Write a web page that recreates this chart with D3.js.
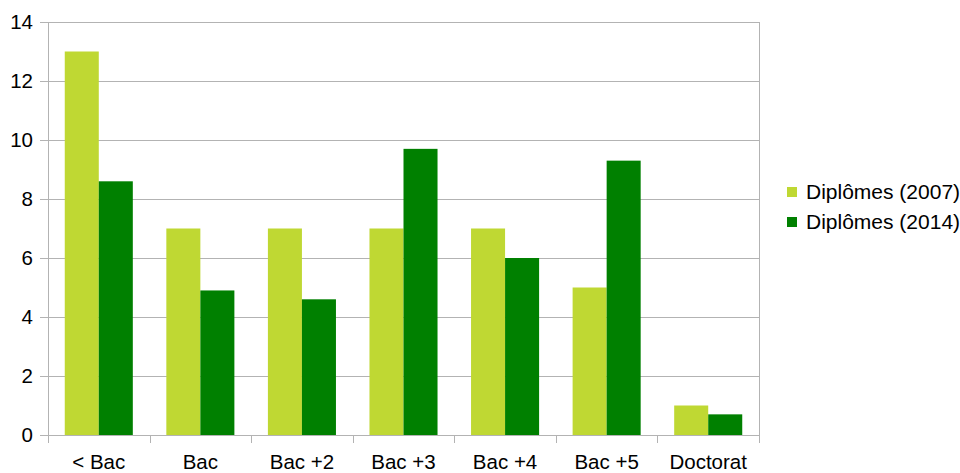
<!DOCTYPE html>
<html>
<head>
<meta charset="utf-8">
<script src="https://cdn.jsdelivr.net/npm/d3@7/dist/d3.min.js"></script>
<style>
  body { margin: 0; background: #fff; }
  text { font-family: "Liberation Sans", Arial, sans-serif; fill: #000; }
</style>
</head>
<body>
<svg id="chart" width="960" height="473"></svg>
<script>
// chart data
var categories = ["< Bac", "Bac", "Bac +2", "Bac +3", "Bac +4", "Bac +5", "Doctorat"];
var seriesNames = ["Diplômes (2007)", "Diplômes (2014)"];
var values2007 = [13, 7, 7, 7, 7, 5, 1];
var values2014 = [8.6, 4.9, 4.6, 9.7, 6, 9.3, 0.7];
var yTicks = [0, 2, 4, 6, 8, 10, 12, 14];
var colors = ["#bfd833", "#008000"];

var svg = d3.select("#chart");
var m = { left: 48, right: 759, top: 22, bottom: 435 };

var x = d3.scaleBand()
  .domain(categories)
  .range([m.left, m.right])
  .paddingInner(0.33)
  .paddingOuter(0.165);

var xs = d3.scaleBand()
  .domain(seriesNames)
  .range([0, x.bandwidth()]);

var y = d3.scaleLinear()
  .domain([0, 14])
  .range([m.bottom, m.top]);

// horizontal grid
svg.append("g")
  .selectAll("line")
  .data(yTicks)
  .enter().append("line")
  .attr("x1", m.left - 8)
  .attr("x2", m.right)
  .attr("y1", function(d) { return y(d) + 0.5; })
  .attr("y2", function(d) { return y(d) + 0.5; })
  .attr("stroke", "#b3b3b3")
  .attr("stroke-width", 1);

// y labels
svg.append("g")
  .selectAll("text")
  .data(yTicks)
  .enter().append("text")
  .attr("x", 33)
  .attr("y", function(d) { return y(d); })
  .attr("dy", "0.35em")
  .attr("text-anchor", "end")
  .attr("font-size", 20.5)
  .text(function(d) { return d; });

// bars
var groups = svg.append("g")
  .selectAll("g")
  .data(categories)
  .enter().append("g")
  .attr("transform", function(d) { return "translate(" + x(d) + ",0)"; });

groups.selectAll("rect")
  .data(function(d, i) { return [values2007[i], values2014[i]]; })
  .enter().append("rect")
  .attr("x", function(d, j) { return xs(seriesNames[j]); })
  .attr("y", function(d) { return y(d); })
  .attr("width", xs.bandwidth())
  .attr("height", function(d) { return y(0) - y(d); })
  .attr("fill", function(d, j) { return colors[j]; });

// axis frame lines
var step = (m.right - m.left) / categories.length;
svg.append("line")
  .attr("x1", m.left + 0.5).attr("x2", m.left + 0.5)
  .attr("y1", m.top).attr("y2", m.bottom + 8)
  .attr("stroke", "#b3b3b3");
svg.append("line")
  .attr("x1", m.right + 0.5).attr("x2", m.right + 0.5)
  .attr("y1", m.top).attr("y2", m.bottom + 8)
  .attr("stroke", "#b3b3b3");
svg.append("g")
  .selectAll("line")
  .data(d3.range(1, categories.length))
  .enter().append("line")
  .attr("x1", function(i) { return Math.round(m.left + i * step) + 0.5; })
  .attr("x2", function(i) { return Math.round(m.left + i * step) + 0.5; })
  .attr("y1", m.bottom)
  .attr("y2", m.bottom + 8)
  .attr("stroke", "#b3b3b3");

// x labels
svg.append("g")
  .selectAll("text")
  .data(categories)
  .enter().append("text")
  .attr("x", function(d) { return x(d) + x.bandwidth() / 2; })
  .attr("y", 469)
  .attr("text-anchor", "middle")
  .attr("font-size", 20.5)
  .text(function(d) { return d; });

// legend
var legend = svg.append("g")
  .selectAll("g")
  .data(seriesNames)
  .enter().append("g")
  .attr("transform", function(d, i) { return "translate(787," + (192 + i * 30) + ")"; });

legend.append("rect")
  .attr("x", 0)
  .attr("y", -5)
  .attr("width", 10)
  .attr("height", 10)
  .attr("fill", function(d, i) { return colors[i]; });

legend.append("text")
  .attr("x", 19)
  .attr("y", 0)
  .attr("dy", "0.35em")
  .attr("font-size", 21)
  .text(function(d) { return d; });
</script>
</body>
</html>
